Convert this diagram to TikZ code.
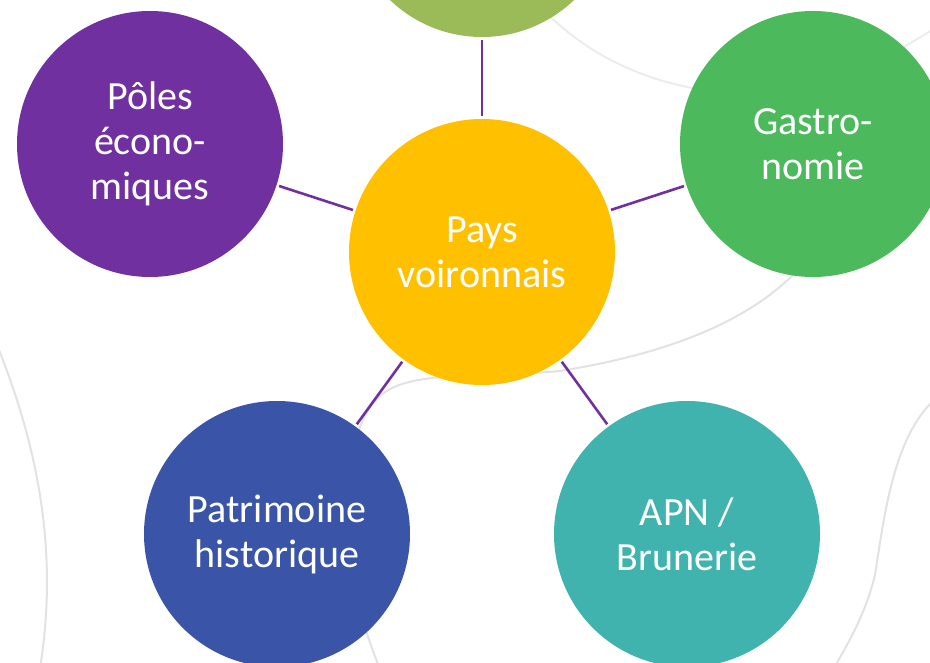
\documentclass[tikz,border=0pt]{standalone}
\usepackage{fontspec}
\setmainfont{Carlito}
\definecolor{cpurple}{HTML}{7030A0}
\definecolor{colive}{HTML}{9BBB59}
\definecolor{cgreen}{HTML}{4CB95C}
\definecolor{cyellow}{HTML}{FFC000}
\definecolor{cblue}{HTML}{3A55A8}
\definecolor{cteal}{HTML}{41B3AE}
\definecolor{bgline}{HTML}{E2E2E2}
\definecolor{bglinelight}{HTML}{ECECEC}
\begin{document}
\begin{tikzpicture}[x=1pt,y=-1pt,
  bubble/.style={circle,minimum size=266pt,inner sep=0pt,text=white,align=center,
    font=\fontsize{40}{45}\selectfont},
  link/.style={draw=cpurple,line width=2.6pt,shorten <=2.5pt,shorten >=2.5pt},
  deco/.style={draw=bgline,line width=2pt},
  decolight/.style={draw=bglinelight,line width=2pt}]
\useasboundingbox (0,0) rectangle (930,663);
\clip (0,0) rectangle (930,663);
% background decorative curves
\draw[decolight] (530,-5) .. controls (580,55) and (650,85) .. (720,92)
  .. controls (800,100) and (870,70) .. (940,25);
\draw[deco] (815,250) .. controls (770,310) and (690,350) .. (560,371)
  .. controls (470,379) and (410,370) .. (380,396)
  .. controls (340,430) and (330,560) .. (385,680);
\draw[deco] (-5,340) .. controls (40,450) and (60,560) .. (38,680);
\draw[deco] (940,395) .. controls (895,430) and (885,510) .. (875,575)
  .. controls (865,615) and (850,640) .. (830,675);
% bubbles
\node[bubble,fill=colive] (top) at (482,-96) {};
\node[bubble,fill=cyellow] (c) at (482,252) {Pays\\voironnais};
\node[bubble,fill=cpurple] (p) at (150,144) {Pôles\\écono-\\miques};
\node[bubble,fill=cgreen] (g) at (813,144) {Gastro-\\nomie};
\node[bubble,fill=cblue] (h) at (277,534) {Patrimoine\\historique};
\node[bubble,fill=cteal] (a) at (687,534) {APN /\\Brunerie};
% connectors
\draw[link] (c) -- (top);
\draw[link] (c) -- (p);
\draw[link] (c) -- (g);
\draw[link] (c) -- (h);
\draw[link] (c) -- (a);
\end{tikzpicture}
\end{document}
